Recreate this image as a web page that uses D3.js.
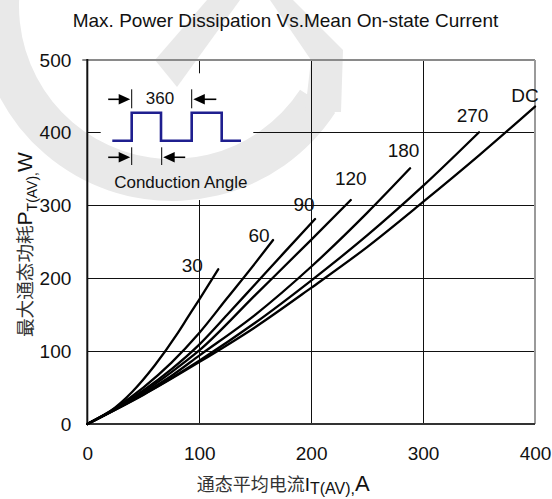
<!DOCTYPE html>
<html>
<head>
<meta charset="utf-8">
<script src="https://cdn.jsdelivr.net/npm/d3@7"></script>
<style>
  html, body { margin: 0; padding: 0; background: #fff; }
  svg { display: block; }
  text { font-family: "Liberation Sans", Arial, sans-serif; fill: #111; }
</style>
</head>
<body>
<svg id="chart" width="552" height="499"></svg>
<script>
// ---- data -------------------------------------------------------------
const xTicks = [0, 100, 200, 300, 400];
const yTicks = [0, 100, 200, 300, 400, 500];
const seriesNames = ["30", "60", "90", "120", "180", "270", "DC"];

// mean on-state current I_T(AV) (A) and dissipated power P_T(AV) (W)
const current30  = [0, 20, 40, 60, 80, 90, 100, 117];
const power30    = [0, 17, 44, 80, 123, 147, 171, 212.5];
const current60  = [0, 25, 50, 75, 100, 125, 150, 166];
const power60    = [0, 22, 50, 84, 125, 173, 221, 252.7];
const current90  = [0, 25, 50, 75, 100, 125, 150, 175, 203.5];
const power90    = [0, 21, 46, 75, 109, 150, 192, 234, 281.6];
const current120 = [0, 25, 50, 75, 100, 150, 200, 235.4];
const power120   = [0, 20.6, 44, 71, 101, 177, 253, 307.7];
const current180 = [0, 25, 50, 75, 100, 150, 200, 250, 288.4];
const power180   = [0, 20, 42, 66, 94, 150, 216, 290, 351.2];
const current270 = [0, 50, 100, 150, 200, 250, 300, 350];
const power270   = [0, 40.5, 87, 139, 197, 259, 327, 400.7];
const currentDC  = [0, 50, 100, 150, 200, 250, 300, 350, 400];
const powerDC    = [0, 40, 85, 133, 187, 243, 305, 369, 436];

const currents = [current30, current60, current90, current120, current180, current270, currentDC];
const powers   = [power30, power60, power90, power120, power180, power270, powerDC];

// label placement relative to each curve's last point (px)
const labelOffsets = [[-26, 2.4], [-14, 1.7], [-11, -8.3], [0, -15], [-6.5, -11], [-6.5, -10.6], [-10, -5]];

// ---- layout -----------------------------------------------------------
const W = 552, H = 499;
const plotL = 87.3, plotR = 535, plotT = 60, plotB = 424;

const svg = d3.select("#chart");
const x = d3.scaleLinear().domain([0, 400]).range([plotL, plotR]);
const y = d3.scaleLinear().domain([0, 500]).range([plotB, plotT]);

// ---- background logo mark (light grey) -----------------------------------
const logo = svg.append("g").attr("fill", "#e9e9e9");
logo.append("path")
  .attr("transform", "translate(172,6)")
  .attr("d", d3.arc()({ innerRadius: 153, outerRadius: 195, startAngle: 2.15, endAngle: 2 * Math.PI + 0.4 }));
logo.append("path").attr("d", "M207,0 L240,0 L177,87 L155,60 Z");
logo.append("path").attr("d", "M270,0 L293,0 L343,50 L341,112 L305,112 L311,60 Z");

// ---- grid (kept clear of the inset diagram) ------------------------------
const defs = svg.append("defs");
const gridMask = defs.append("mask").attr("id", "gridMask");
gridMask.append("rect").attr("x", 0).attr("y", 0).attr("width", W).attr("height", H).attr("fill", "#fff");
gridMask.append("rect").attr("x", 100.7).attr("y", 73.3).attr("width", 152.6).attr("height", 126.7).attr("fill", "#000");

const grid = svg.append("g").attr("mask", "url(#gridMask)")
  .attr("stroke", "#111").attr("stroke-width", 1).attr("shape-rendering", "crispEdges");
grid.selectAll("line.v").data(xTicks.slice(1, -1)).join("line").attr("class", "v")
  .attr("x1", d => x(d)).attr("x2", d => x(d)).attr("y1", plotT).attr("y2", plotB);
grid.selectAll("line.h").data(yTicks.slice(1, -1)).join("line").attr("class", "h")
  .attr("x1", plotL).attr("x2", plotR).attr("y1", d => y(d)).attr("y2", d => y(d));

// ---- frame ------------------------------------------------------------
const frame = svg.append("g").attr("fill", "none").attr("stroke-width", 2);
frame.append("line").attr("x1", plotL - 5).attr("x2", plotR).attr("y1", plotT).attr("y2", plotT).attr("stroke", "#8a8a8a");
frame.append("line").attr("x1", plotR).attr("x2", plotR).attr("y1", plotT).attr("y2", plotB).attr("stroke", "#9a9a9a");
frame.append("line").attr("x1", plotL).attr("x2", plotR).attr("y1", plotB).attr("y2", plotB).attr("stroke", "#333");
frame.append("line").attr("x1", plotL).attr("x2", plotL).attr("y1", plotT - 1).attr("y2", plotB + 1).attr("stroke", "#111");

// ---- axes (labels only) -----------------------------------------------
const yAxis = svg.append("g").attr("transform", `translate(${plotL},0)`)
  .call(d3.axisLeft(y).tickValues(yTicks).tickSize(0).tickPadding(16));
const xAxis = svg.append("g").attr("transform", `translate(0,${plotB})`)
  .call(d3.axisBottom(x).tickValues(xTicks).tickSize(0).tickPadding(23));
[yAxis, xAxis].forEach(a => {
  a.select(".domain").remove();
  a.selectAll("text").attr("font-size", 19).attr("font-family", "Liberation Sans, Arial, sans-serif").attr("fill", "#111");
});

// ---- curves -----------------------------------------------------------
const lineGen = d3.line().x(d => x(d[0])).y(d => y(d[1])).curve(d3.curveMonotoneX);
const series = seriesNames.map((name, i) => ({
  name,
  points: currents[i].map((c, j) => [c, powers[i][j]]),
  offset: labelOffsets[i]
}));

svg.append("g").selectAll("path").data(series).join("path")
  .attr("fill", "none").attr("stroke", "#000").attr("stroke-width", 2.3)
  .attr("stroke-linejoin", "round").attr("stroke-linecap", "round")
  .attr("d", d => lineGen(d.points));

svg.append("g").selectAll("text").data(series).join("text")
  .attr("x", d => x(d.points[d.points.length - 1][0]) + d.offset[0])
  .attr("y", d => y(d.points[d.points.length - 1][1]) + d.offset[1])
  .attr("text-anchor", "middle").attr("font-size", 19)
  .text(d => d.name);

// ---- inset: conduction angle diagram -----------------------------------
const inset = svg.append("g");
inset.append("path")
  .attr("d", "M112.3,140.7 H131.7 V112.7 H161 V140.7 H191.7 V112.7 H221.7 V140.7 H241")
  .attr("fill", "none").attr("stroke", "#1f1f8f").attr("stroke-width", 2.6);

function arrow(g, tipX, yy, dir, len) {
  g.append("line").attr("x1", tipX - dir * len).attr("x2", tipX - dir * 6).attr("y1", yy).attr("y2", yy)
    .attr("stroke", "#000").attr("stroke-width", 1.6);
  g.append("path")
    .attr("d", `M${tipX},${yy} L${tipX - dir * 11.5},${yy - 5.3} L${tipX - dir * 11.5},${yy + 5.3} Z`)
    .attr("fill", "#000");
}
function bar(g, xx, y1, y2) {
  g.append("line").attr("x1", xx).attr("x2", xx).attr("y1", y1).attr("y2", y2)
    .attr("stroke", "#000").attr("stroke-width", 1);
}
arrow(inset, 130.2, 99.3, 1, 22);
bar(inset, 131.7, 89.3, 108.3);
bar(inset, 191.7, 89.3, 108.3);
arrow(inset, 193.3, 99.3, -1, 23);
inset.append("text").attr("x", 160).attr("y", 104.3).attr("text-anchor", "middle")
  .attr("font-family", "Liberation Serif, Times New Roman, serif").attr("font-size", 17).text("360");

arrow(inset, 130.2, 157.3, 1, 22);
bar(inset, 131.7, 147.3, 165);
bar(inset, 161.7, 147.3, 165);
arrow(inset, 163.2, 157.3, -1, 22);
inset.append("text").attr("x", 180.8).attr("y", 188.3).attr("text-anchor", "middle")
  .attr("font-size", 17).text("Conduction Angle");

// ---- titles -----------------------------------------------------------
svg.append("text").attr("x", 285.5).attr("y", 26.7).attr("text-anchor", "middle")
  .attr("font-size", 19).text("Max. Power Dissipation Vs.Mean On-state Current");

const cjk = "Noto Sans CJK SC, sans-serif";
const xTitle = svg.append("text").attr("x", 196.7).attr("y", 490.5).attr("fill", "#222");
xTitle.append("tspan").attr("font-family", cjk).attr("font-size", 18).attr("fill", "#333").text("通态平均电流");
xTitle.append("tspan").attr("font-size", 19).text("I");
xTitle.append("tspan").attr("font-size", 16).attr("dy", 3.5).text("T(AV),");
xTitle.append("tspan").attr("font-size", 22).attr("dy", -3.5).text("A");

const yTitle = svg.append("text").attr("transform", "translate(31.5,337) rotate(-90)").attr("fill", "#222");
yTitle.append("tspan").attr("font-family", cjk).attr("font-size", 18.6).attr("fill", "#333").text("最大通态功耗");
yTitle.append("tspan").attr("font-size", 21).text("P");
yTitle.append("tspan").attr("font-size", 14).attr("dy", 5).text("T(AV),");
yTitle.append("tspan").attr("font-size", 21).attr("dy", -5).text("W");
</script>
</body>
</html>
